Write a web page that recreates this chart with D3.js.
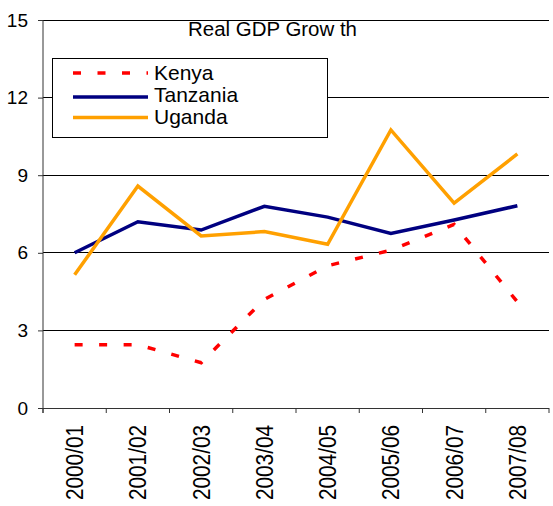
<!DOCTYPE html>
<html>
<head>
<meta charset="utf-8">
<script src="https://cdn.jsdelivr.net/npm/d3@7"></script>
<style>
  body { margin: 0; background: #fff; }
  text { font-family: "Liberation Sans", Arial, sans-serif; fill: #000; }
</style>
</head>
<body>
<svg width="553" height="506"></svg>
<script>
let years = ['2000/01', '2001/02', '2002/03', '2003/04', '2004/05', '2005/06', '2006/07', '2007/08'];
let kenya = [2.45, 2.45, 1.75, 4.2, 5.5, 6.1, 7.1, 4.1];
let tanzania = [6.0, 7.2, 6.88, 7.8, 7.38, 6.75, 7.27, 7.82];
let uganda = [5.15, 8.58, 6.65, 6.82, 6.33, 10.75, 7.92, 9.82];
let yTicks = [0, 3, 6, 9, 12, 15];

let series = [
    {name: 'Kenya', values: kenya, color: '#ff0000', dash: '8,16.5'},
    {name: 'Tanzania', values: tanzania, color: '#000080', dash: null},
    {name: 'Uganda', values: uganda, color: '#ffa000', dash: null}
];

let svg = d3.select('svg');
let plotLeft = 43, plotRight = 549, plotTop = 20, plotBottom = 408;

let x = d3.scaleBand().domain(years).range([plotLeft, plotRight]);
let y = d3.scaleLinear().domain([0, 15]).range([plotBottom, plotTop]);

// gridlines
svg.append('g').selectAll('line')
    .data(yTicks.filter(d => d > 0))
    .join('line')
    .attr('x1', plotLeft).attr('x2', plotRight)
    .attr('y1', d => y(d)).attr('y2', d => y(d))
    .attr('stroke', '#000').attr('stroke-width', 1)
    .attr('shape-rendering', 'crispEdges');

// y axis
let yAxis = svg.append('g')
    .attr('transform', `translate(${plotLeft},0)`)
    .call(d3.axisLeft(y).tickValues(yTicks).tickSize(5).tickPadding(10));
yAxis.select('.domain').attr('stroke', '#333').attr('d', `M0,${plotTop}V${plotBottom + 5}`);
yAxis.selectAll('text').attr('font-size', 19).attr('font-family', 'Liberation Sans, Arial');
yAxis.selectAll('line').attr('stroke', '#333');

// x axis
let xAxis = svg.append('g')
    .attr('transform', `translate(0,${plotBottom})`);
xAxis.append('line')
    .attr('x1', plotLeft).attr('x2', plotRight)
    .attr('stroke', '#333').attr('shape-rendering', 'crispEdges');
xAxis.selectAll('line.tick')
    .data(years.concat(['end']))
    .join('line')
    .attr('class', 'tick')
    .attr('x1', (d, i) => plotLeft + i * x.step())
    .attr('x2', (d, i) => plotLeft + i * x.step())
    .attr('y1', 0).attr('y2', 5)
    .attr('stroke', '#333');
xAxis.selectAll('text')
    .data(years)
    .join('text')
    .attr('transform', d => `translate(${x(d) + x.bandwidth() / 2 + 8.5},17) rotate(-90)`)
    .attr('text-anchor', 'end')
    .attr('font-size', 23)
    .attr('textLength', 75)
    .attr('lengthAdjust', 'spacingAndGlyphs')
    .text(d => d);

// lines
let line = d3.line()
    .x((d, i) => x(years[i]) + x.bandwidth() / 2)
    .y(d => y(d));

svg.append('g').selectAll('path')
    .data(series)
    .join('path')
    .attr('d', d => line(d.values))
    .attr('fill', 'none')
    .attr('stroke', d => d.color)
    .attr('stroke-width', 3.5)
    .attr('stroke-dasharray', d => d.dash);

// title
svg.append('text')
    .attr('x', 188).attr('y', 36)
    .attr('font-size', 20)
    .attr('textLength', 169)
    .attr('lengthAdjust', 'spacingAndGlyphs')
    .text('Real GDP Grow th');

// legend
let legend = svg.append('g');
legend.append('rect')
    .attr('x', 52.5).attr('y', 58.5)
    .attr('width', 275).attr('height', 79)
    .attr('fill', '#fff').attr('stroke', '#000');
let items = legend.selectAll('g.item')
    .data(series)
    .join('g')
    .attr('class', 'item')
    .attr('transform', (d, i) => `translate(0,${[73, 97, 117.5][i]})`);
items.append('line')
    .attr('x1', 73).attr('x2', 148)
    .attr('stroke', d => d.color)
    .attr('stroke-width', 3.5)
    .attr('stroke-dasharray', d => d.dash);
items.append('text')
    .attr('x', 154).attr('y', (d, i) => [7, 5, 6.5][i])
    .attr('font-size', 21)
    .text(d => d.name);
</script>
</body>
</html>
